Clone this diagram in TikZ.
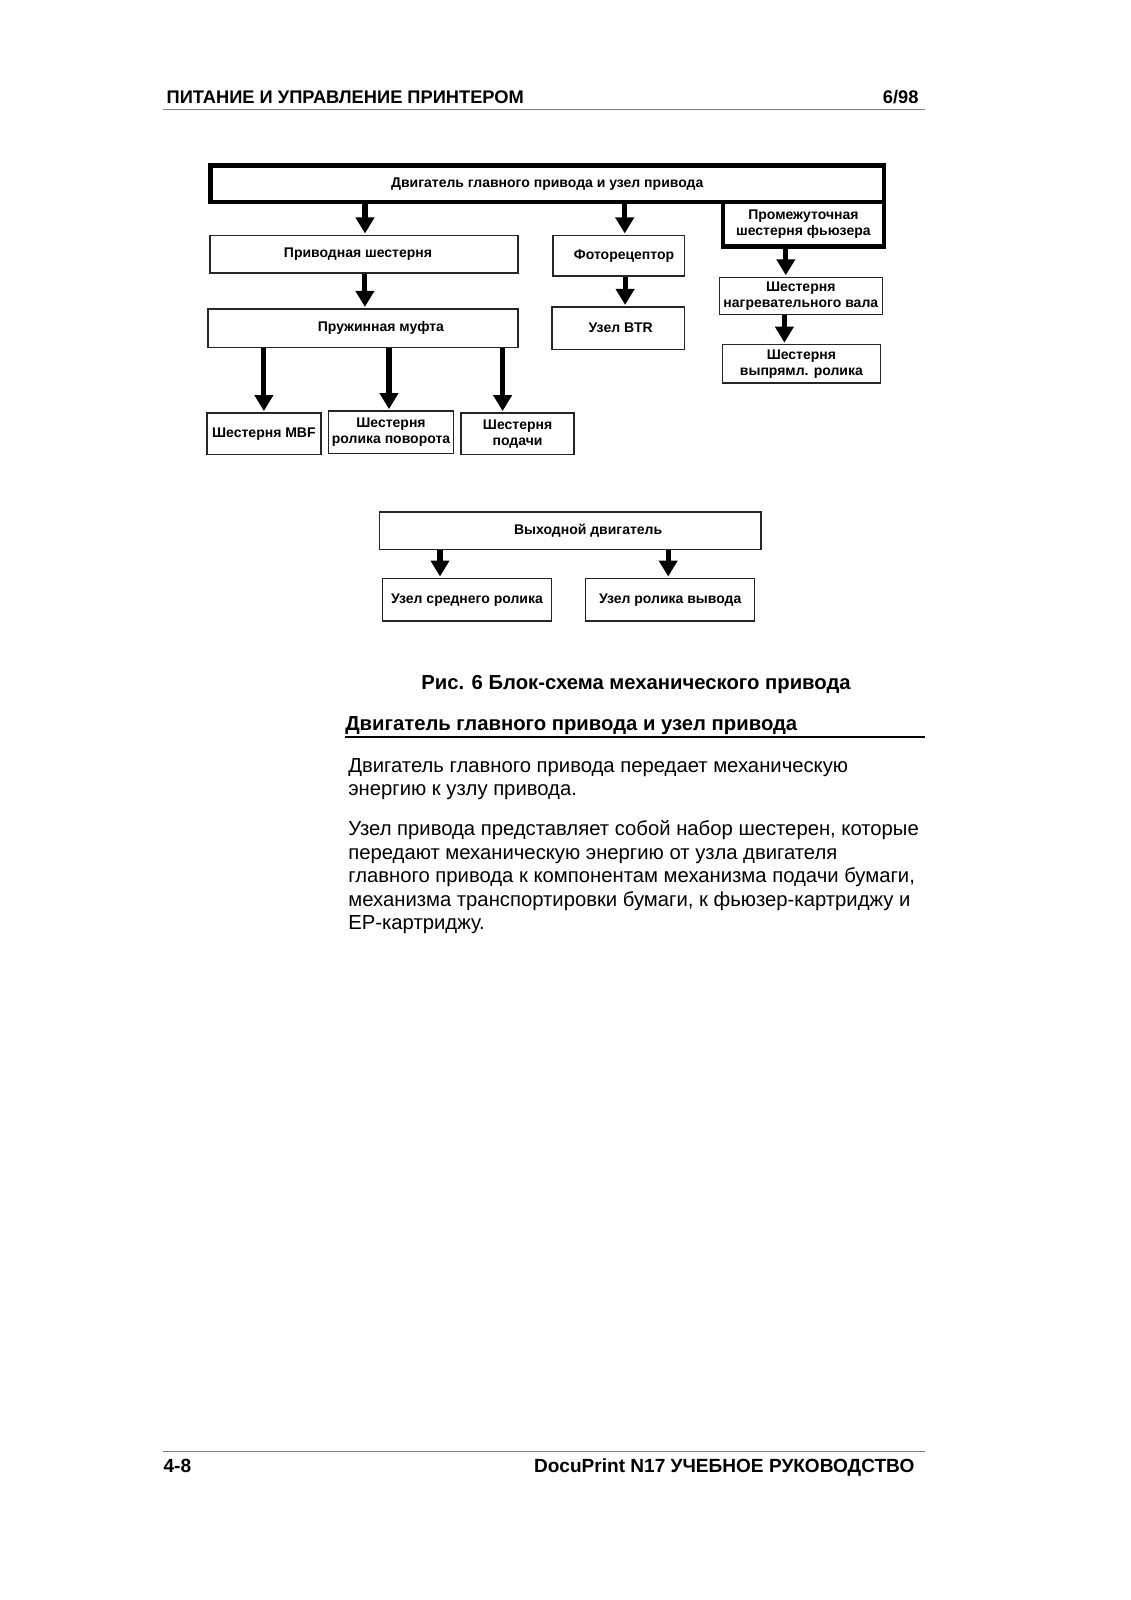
\documentclass[tikz,border=0pt]{standalone}
\usepackage{fontspec}
\setmainfont{Liberation Sans}
\usetikzlibrary{arrows.meta, positioning, calc}
\definecolor{rulegray}{RGB}{125,125,125}

\begin{document}
\begin{tikzpicture}[
  x=0.75pt, y=-0.75pt,
  box/.style      = {rectangle, draw=black!85, line width=1.1pt, inner sep=1pt,
                     align=center, font=\fontsize{10.5}{12.3}\selectfont\bfseries},
  heavybox/.style = {box, draw=black, line width=3.4pt, outer sep=0pt},
  arr/.style      = {-{Triangle[width=13.5pt, length=12pt]}, line width=3.8pt, shorten >=1pt},
  pagehead/.style = {font=\fontsize{13.7}{16}\selectfont\bfseries, inner sep=0pt},
  pagefoot/.style = {font=\fontsize{14.3}{16}\selectfont\bfseries, inner sep=0pt},
  caption/.style  = {font=\fontsize{15.2}{18}\selectfont\bfseries, inner sep=0pt},
  bodytext/.style = {font=\fontsize{15.2}{17.6}\selectfont, align=left, inner sep=0pt, anchor=north west},
]
\useasboundingbox[fill=white] (0,0) rectangle (1131,1600);

%% Page header
\node[pagehead, anchor=base west] (headL) at (166.4,103.6) {ПИТАНИЕ И УПРАВЛЕНИЕ ПРИНТЕРОМ};
\node[pagehead, anchor=base east] (headR) at (918.7,103.6) {6/98};
\draw[rulegray, line width=1.1pt] (163.3,109.5) -- (924.8,109.5);

%% Main drive
\node[heavybox, minimum width=505pt, minimum height=27.3pt] (main) at (547.2,183.8)
  {Двигатель главного привода и узел привода};
\node[heavybox, anchor=north east, minimum width=120.7pt, minimum height=33.5pt] (interim) at (main.south east)
  {Промежуточная\\шестерня фьюзера};

\node[box, minimum width=230.9pt, minimum height=28pt]   (drivegear)    at (364,254.2)   {Приводная шестерня\hspace*{9pt}};
\node[box, minimum width=98.4pt,  minimum height=30.3pt] (photo)        at (618.7,255.7) {\hspace*{8pt}Фоторецептор};
\node[box, minimum width=122.2pt, minimum height=28pt]   (heatgear)     at (800.8,296)   {Шестерня\\нагревательного вала};
\node[box, minimum width=118.4pt, minimum height=28.8pt] (straightgear) at (801.4,363.9) {Шестерня\\выпрямл. ролика};
\node[box, minimum width=232.5pt, minimum height=28.8pt] (clutch)       at (362.9,328.2) {\hspace*{27pt}Пружинная муфта};
\node[box, minimum width=99.3pt,  minimum height=31.8pt] (btr)          at (618.1,328.2) {\hspace*{4pt}Узел BTR};
\node[box, minimum width=85.5pt,  minimum height=31.1pt] (mbf)          at (263.9,433.9) {Шестерня MBF};
\node[box, minimum width=93.9pt,  minimum height=31.8pt] (turngear)     at (391,432.4)   {Шестерня\\ролика поворота};
\node[box, minimum width=84.6pt,  minimum height=31.1pt] (feedgear)     at (517.6,433.9) {Шестерня\\подачи};

%% Exit drive
\node[box, minimum width=286pt,   minimum height=28pt]   (exitmotor)    at (570.1,530.8) {\hspace*{27pt}Выходной двигатель};
\node[box, minimum width=126.8pt, minimum height=31.8pt] (midroll)      at (467,599.8)   {Узел среднего ролика};
\node[box, minimum width=126.8pt, minimum height=31.8pt] (outroll)      at (670.2,599.8) {Узел ролика вывода};

%% Drive arrows (offset of the arrow from the target centre, in px)
\foreach \a/\b/\dx in {main/drivegear/1, main/photo/6, interim/heatgear/-15,
                       heatgear/straightgear/-17, drivegear/clutch/2, photo/btr/7,
                       clutch/mbf/0, clutch/turngear/-2, clutch/feedgear/-15,
                       exitmotor/midroll/-27, exitmotor/outroll/-2}
  \draw[arr] ($(\b.north |- \a.south)+(\dx,0)$) -- ($(\b.north)+(\dx,0)$);

%% Caption and text
\node[caption] (figcap) at (636,684.9) {Рис. 6 Блок-схема механического привода};
\node[caption, anchor=west] (sechead) at (345,725.7) {Двигатель главного привода и узел привода};
\draw[line width=1.1pt] (345,737) -- (924.8,737);

\node[bodytext] (para1) at (348.1,758)
  {Двигатель главного привода передает механическую\\
   энергию к узлу привода.};
\node[bodytext] (para2) at (348.1,820.3)
  {Узел привода представляет собой набор шестерен, которые\\
   передают механическую энергию от узла двигателя\\
   главного привода к компонентам механизма подачи бумаги,\\
   механизма транспортировки бумаги, к фьюзер-картриджу и\\
   ЕР-картриджу.};

%% Page footer
\draw[rulegray, line width=1.1pt] (163.3,1451.6) -- (924.8,1451.6);
\node[pagefoot, anchor=base west] (footL) at (163.3,1472.6) {4-8};
\node[pagefoot, anchor=base east] (footR) at (914.6,1472.6) {DocuPrint N17 УЧЕБНОЕ РУКОВОДСТВО};

\end{tikzpicture}
\end{document}
